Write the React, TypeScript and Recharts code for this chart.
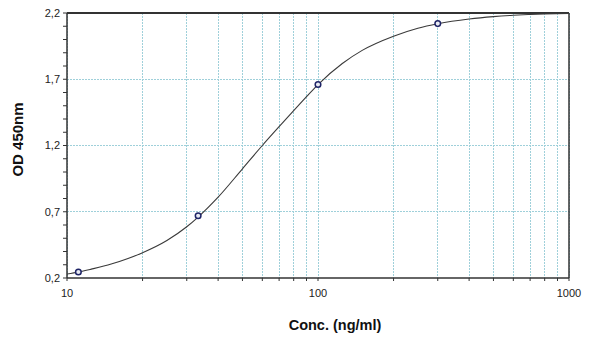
import React from 'react';
import {
  ComposedChart,
  Line,
  Scatter,
  XAxis,
  YAxis,
  CartesianGrid,
  ReferenceLine,
  Label,
} from 'recharts';

// Standard points (concentration ng/ml, OD 450nm)
const pointConc = [11.1, 33.3, 100, 300];
const pointOD = [0.245, 0.67, 1.66, 2.12];

// Fitted curve
const curveConc = [10, 11.1, 12.5, 15, 17.5, 20, 25, 30, 33.3, 40, 50, 60, 70, 80, 90, 100, 125, 150, 200, 250, 300, 400, 500, 600, 700, 800, 1000];
const curveOD = [0.23, 0.245, 0.267, 0.305, 0.347, 0.391, 0.483, 0.587, 0.66, 0.81, 1.024, 1.2, 1.342, 1.463, 1.568, 1.66, 1.819, 1.918, 2.025, 2.085, 2.119, 2.155, 2.173, 2.183, 2.189, 2.193, 2.197];

// Axis ticks
const xTicks = [10, 20, 30, 40, 50, 60, 70, 80, 90, 100, 200, 300, 400, 500, 600, 700, 800, 900, 1000];
const xLabelTicks = [10, 100, 1000];
const yTicks = [0.2, 0.3, 0.4, 0.5, 0.6, 0.7, 0.8, 0.9, 1.0, 1.1, 1.2, 1.3, 1.4, 1.5, 1.6, 1.7, 1.8, 1.9, 2.0, 2.1, 2.2];
const yLabelTicks = [0.2, 0.7, 1.2, 1.7, 2.2];
const yGridLines = [0.7, 1.2, 1.7];

const xTitle = 'Conc. (ng/ml)';
const yTitle = 'OD 450nm';

const curveData = curveConc.map((c, i) => ({ conc: c, od: curveOD[i] }));
const pointData = pointConc.map((c, i) => ({ conc: c, od: pointOD[i] }));

const FONT = '"Liberation Sans", Arial, sans-serif';
const GRID = '#9fd0da';
const AXIS = '#333333';

const XTitle = (props: any) => {
  const vb = props.viewBox || {};
  return (
    <text
      x={vb.x + vb.width / 2 + 17}
      y={326}
      textAnchor="middle"
      dominantBaseline="middle"
      fontFamily={FONT}
      fontWeight="bold"
      fontSize={14.5}
      fill="#111"
    >
      {xTitle}
    </text>
  );
};

const YTitle = (props: any) => {
  const vb = props.viewBox || {};
  const cx = 19;
  const cy = vb.y + vb.height / 2 - 6;
  return (
    <text
      x={cx}
      y={cy}
      transform={`rotate(-90, ${cx}, ${cy})`}
      textAnchor="middle"
      dominantBaseline="middle"
      fontFamily={FONT}
      fontWeight="bold"
      fontSize={15}
      fill="#111"
    >
      {yTitle}
    </text>
  );
};

const Marker = (props: any) => {
  const { cx, cy } = props;
  if (cx == null || cy == null) return null;
  return <circle cx={cx} cy={cy} r={2.8} fill="#e9ebf3" stroke="#1e2466" strokeWidth={1.5} />;
};

export default function App() {
  return (
    <div style={{ position: 'absolute', left: 0, top: 0, width: 600, height: 341, background: '#fff' }}>
      <ComposedChart width={600} height={341} margin={{ top: 13, right: 31, bottom: 0, left: 0 }}>
        <CartesianGrid
          horizontal={true}
          vertical={true}
          horizontalValues={yGridLines}
          verticalValues={xTicks}
          stroke={GRID}
          strokeDasharray="2 1"
          strokeWidth={1}
          shapeRendering="crispEdges"
        />
        <XAxis
          dataKey="conc"
          type="number"
          scale="log"
          domain={[10, 1000]}
          ticks={xTicks}
          allowDataOverflow
          height={63}
          tickSize={3}
          tickMargin={8}
          stroke={AXIS}
          tickLine={{ stroke: AXIS }}
          axisLine={{ stroke: AXIS, strokeWidth: 1.5 }}
          interval={0}
          tick={{ fill: '#222', fontSize: 11, fontFamily: FONT }}
          tickFormatter={(v: number) => (xLabelTicks.includes(v) ? String(v) : '')}
        >
          <Label content={<XTitle />} />
        </XAxis>
        <YAxis
          dataKey="od"
          type="number"
          domain={[0.2, 2.2]}
          ticks={yTicks}
          allowDataOverflow
          width={67}
          tickSize={4}
          tickMargin={3}
          stroke={AXIS}
          tickLine={{ stroke: AXIS }}
          axisLine={{ stroke: AXIS, strokeWidth: 1.5 }}
          interval={0}
          tick={{ fill: '#222', fontSize: 11, fontFamily: FONT }}
          tickFormatter={(v: number) =>
            yLabelTicks.some((t) => Math.abs(t - v) < 1e-6) ? v.toFixed(1).replace('.', ',') : ''
          }
        >
          <Label content={<YTitle />} />
        </YAxis>
        <ReferenceLine y={2.2} stroke={AXIS} strokeWidth={1.8} />
        <ReferenceLine x={1000} stroke={AXIS} strokeWidth={1.5} />
        <Line
          data={curveData}
          dataKey="od"
          type="monotone"
          stroke="#3a3a3a"
          strokeWidth={1.1}
          dot={false}
          activeDot={false}
          isAnimationActive={false}
        />
        <Scatter data={pointData} dataKey="od" shape={<Marker />} isAnimationActive={false} />
      </ComposedChart>
    </div>
  );
}
